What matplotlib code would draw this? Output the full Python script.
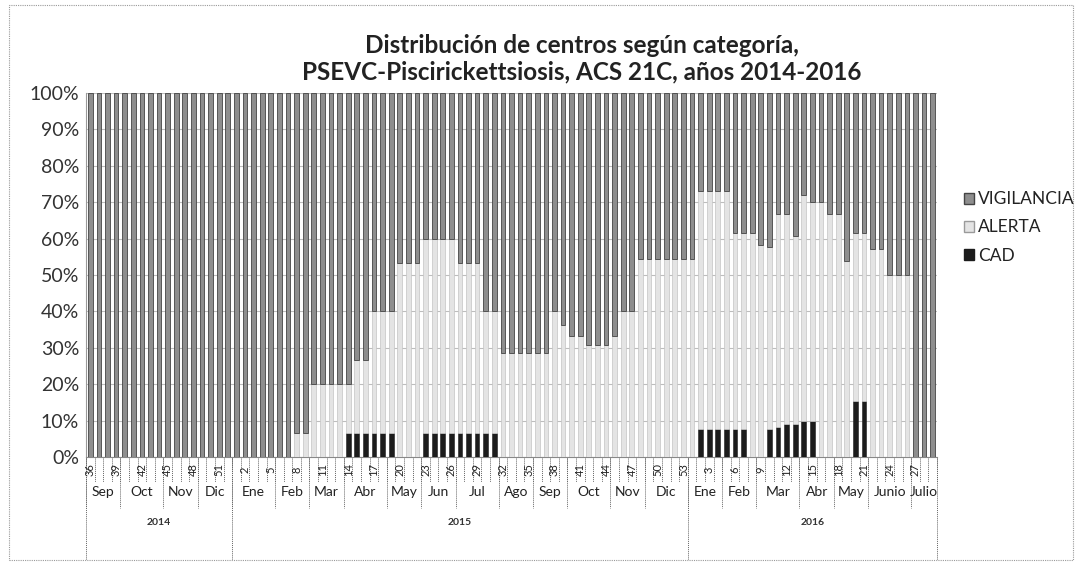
import numpy as np
import matplotlib
matplotlib.use("Agg")
import matplotlib.pyplot as plt
from matplotlib.patches import Patch, Rectangle
from matplotlib.transforms import blended_transform_factory

plt.rcParams['font.family'] = ['Lato', 'DejaVu Sans']

# semanas epidemiologicas por año
semanas_2014 = list(range(36, 53))
semanas_2015 = list(range(1, 54))
semanas_2016 = list(range(1, 30))

meses_2014 = ['Sep', 'Oct', 'Nov', 'Dic']
n_meses_2014 = [4, 5, 4, 4]
meses_2015 = ['Ene', 'Feb', 'Mar', 'Abr', 'May', 'Jun', 'Jul', 'Ago', 'Sep', 'Oct', 'Nov', 'Dic']
n_meses_2015 = [5, 4, 4, 5, 4, 4, 5, 4, 4, 5, 4, 5]
meses_2016 = ['Ene', 'Feb', 'Mar', 'Abr', 'May', 'Junio', 'Julio']
n_meses_2016 = [4, 4, 5, 4, 4, 5, 3]

anios = ['2014', '2015', '2016']

# porcentaje de centros (%) por semana
cad_2014 = [0] * 17
alerta_2014 = [0] * 17
vigilancia_2014 = [100] * 17

cad_2015 = [0, 0, 0, 0, 0, 0, 0,            # sem 1-7
            0, 0, 0, 0, 0, 0,               # sem 8-13
            6.7, 6.7, 6.7, 6.7, 6.7, 6.7,   # sem 14-19
            0, 0, 0,                        # sem 20-22
            6.7, 6.7, 6.7, 6.7, 6.7, 6.7, 6.7, 6.7, 6.7,   # sem 23-31
            0, 0, 0, 0, 0, 0, 0, 0, 0, 0, 0,               # sem 32-42
            0, 0, 0, 0, 0, 0, 0, 0, 0, 0, 0]               # sem 43-53
alerta_2015 = [0, 0, 0, 0, 0, 0, 0,
               6.7, 6.7, 20, 20, 20, 20,
               13.3, 20, 20, 33.3, 33.3, 33.3,
               53.3, 53.3, 53.3,
               53.3, 53.3, 53.3, 53.3, 46.6, 46.6, 46.6, 33.3, 33.3,
               28.6, 28.6, 28.6, 28.6, 28.6, 28.6, 40, 36.4, 33.3, 33.3, 30.8,
               30.8, 30.8, 33.3, 40, 40, 54.5, 54.5, 54.5, 54.5, 54.5, 54.5]
vigilancia_2015 = [100, 100, 100, 100, 100, 100, 100,
                   93.3, 93.3, 80, 80, 80, 80,
                   80, 73.3, 73.3, 60, 60, 60,
                   46.7, 46.7, 46.7,
                   40, 40, 40, 40, 46.7, 46.7, 46.7, 60, 60,
                   71.4, 71.4, 71.4, 71.4, 71.4, 71.4, 60, 63.6, 66.7, 66.7, 69.2,
                   69.2, 69.2, 66.7, 60, 60, 45.5, 45.5, 45.5, 45.5, 45.5, 45.5]

cad_2016 = [0, 7.7, 7.7, 7.7, 7.7, 7.7, 7.7, 0,      # sem 1-8
            0, 7.7, 8.3, 9.1, 9.1, 10, 10,          # sem 9-15
            0, 0, 0, 0, 15.4, 15.4,                 # sem 16-21
            0, 0, 0, 0, 0, 0, 0, 0]                 # sem 22-29
alerta_2016 = [54.5, 65.4, 65.4, 65.4, 65.4, 53.8, 53.8, 61.5,
               58.3, 50, 58.4, 57.6, 51.5, 62, 60,
               70, 66.7, 66.7, 53.8, 46.1, 46.1,
               57.1, 57.1, 50, 50, 50, 0, 0, 0]
vigilancia_2016 = [45.5, 26.9, 26.9, 26.9, 26.9, 38.5, 38.5, 38.5,
                   41.7, 42.3, 33.3, 33.3, 39.4, 28, 30,
                   30, 33.3, 33.3, 46.2, 38.5, 38.5,
                   42.9, 42.9, 50, 50, 50, 100, 100, 100]

semanas = semanas_2014 + semanas_2015 + semanas_2016
cad = np.array(cad_2014 + cad_2015 + cad_2016)
alerta = np.array(alerta_2014 + alerta_2015 + alerta_2016)
vigilancia = np.array(vigilancia_2014 + vigilancia_2015 + vigilancia_2016)
x = np.arange(len(semanas))

fig = plt.figure(figsize=(10.81, 5.65), dpi=100)
ax = fig.add_axes([86 / 1081, 108 / 565, 851 / 1081, 364 / 565])

ancho = 0.55
ax.bar(x, cad, ancho, color='#1c1c1c', edgecolor='#1c1c1c', linewidth=0.4, zorder=3)
ax.bar(x, alerta, ancho, bottom=cad, color='#e4e4e4', edgecolor='#c4c4c4', linewidth=0.5, zorder=3)
ax.bar(x, vigilancia, ancho, bottom=cad + alerta, color='#8e8e8e', edgecolor='#444444',
       linewidth=0.6, zorder=3)

ax.set_xlim(-0.5, len(semanas) - 0.5)
ax.set_ylim(0, 100)
ax.set_yticks(np.arange(0, 101, 10))
ax.set_yticklabels(['%d%%' % v for v in range(0, 101, 10)], fontsize=14, color='#333333')
ax.tick_params(axis='y', length=0, pad=5)
ax.yaxis.grid(True, color='#bdbdbd', linewidth=0.8, zorder=0)
ax.set_xticks([])
for s in ['top', 'right']:
    ax.spines[s].set_visible(False)
ax.spines['left'].set_color('#999999')
ax.spines['bottom'].set_color('#888888')

# eje de categorias en tres niveles: semana / mes / año
trans = blended_transform_factory(ax.transData, ax.transAxes)
y_sem, y_mes, y_anio = -0.068, -0.14, -0.283
lin = dict(color='#666666', linewidth=0.7, linestyle=(0, (1, 1)), transform=trans, clip_on=False)

for i in range(len(semanas) + 1):
    ax.plot([i - 0.5, i - 0.5], [0, y_sem], **lin)
for i in range(0, len(semanas), 3):
    ax.text(i, -0.034, str(semanas[i]), rotation=90, ha='center', va='center',
            fontsize=8, color='#222222', transform=trans)

grupos = [(meses_2014, n_meses_2014), (meses_2015, n_meses_2015), (meses_2016, n_meses_2016)]
ini = 0
for anio, (meses, nums) in zip(anios, grupos):
    ini_anio = ini
    for m, n in zip(meses, nums):
        ax.plot([ini - 0.5, ini - 0.5], [0, y_mes], **lin)
        ax.text(ini + n / 2 - 0.5, -0.097, m, ha='center', va='center', fontsize=10,
                color='#222222', transform=trans)
        ini += n
    ax.plot([ini_anio - 0.5, ini_anio - 0.5], [0, y_anio], **lin)
    ax.text((ini_anio + ini) / 2 - 0.5, -0.181, anio, ha='center', va='center', fontsize=7.5,
            fontweight='bold', color='#333333', transform=trans)
ax.plot([ini - 0.5, ini - 0.5], [0, y_anio], **lin)

fig.text(0.538, 0.8956, 'Distribución de centros según categoría,\nPSEVC-Piscirickettsiosis, ACS 21C, años 2014-2016',
         ha='center', va='center', fontsize=17.5, fontweight='bold', color='#222222', linespacing=1.2)

handles = [Patch(facecolor='#8e8e8e', edgecolor='#444444'),
           Patch(facecolor='#e4e4e4', edgecolor='#9a9a9a'),
           Patch(facecolor='#1c1c1c', edgecolor='#1c1c1c')]
fig.legend(handles, ['VIGILANCIA', 'ALERTA', 'CAD'], loc='upper left',
           bbox_to_anchor=(0.877, 0.689), frameon=False, fontsize=12.5, handlelength=0.6,
           handleheight=0.6, handletextpad=0.25, labelspacing=0.7, labelcolor='#222222')

# marco del grafico
fig.patches.append(Rectangle((0.008, 0.008), 0.985, 0.984, transform=fig.transFigure,
                             fill=False, edgecolor='#999999', linewidth=0.8, linestyle=(0, (1, 1))))

fig.savefig('out.png', dpi=100)
